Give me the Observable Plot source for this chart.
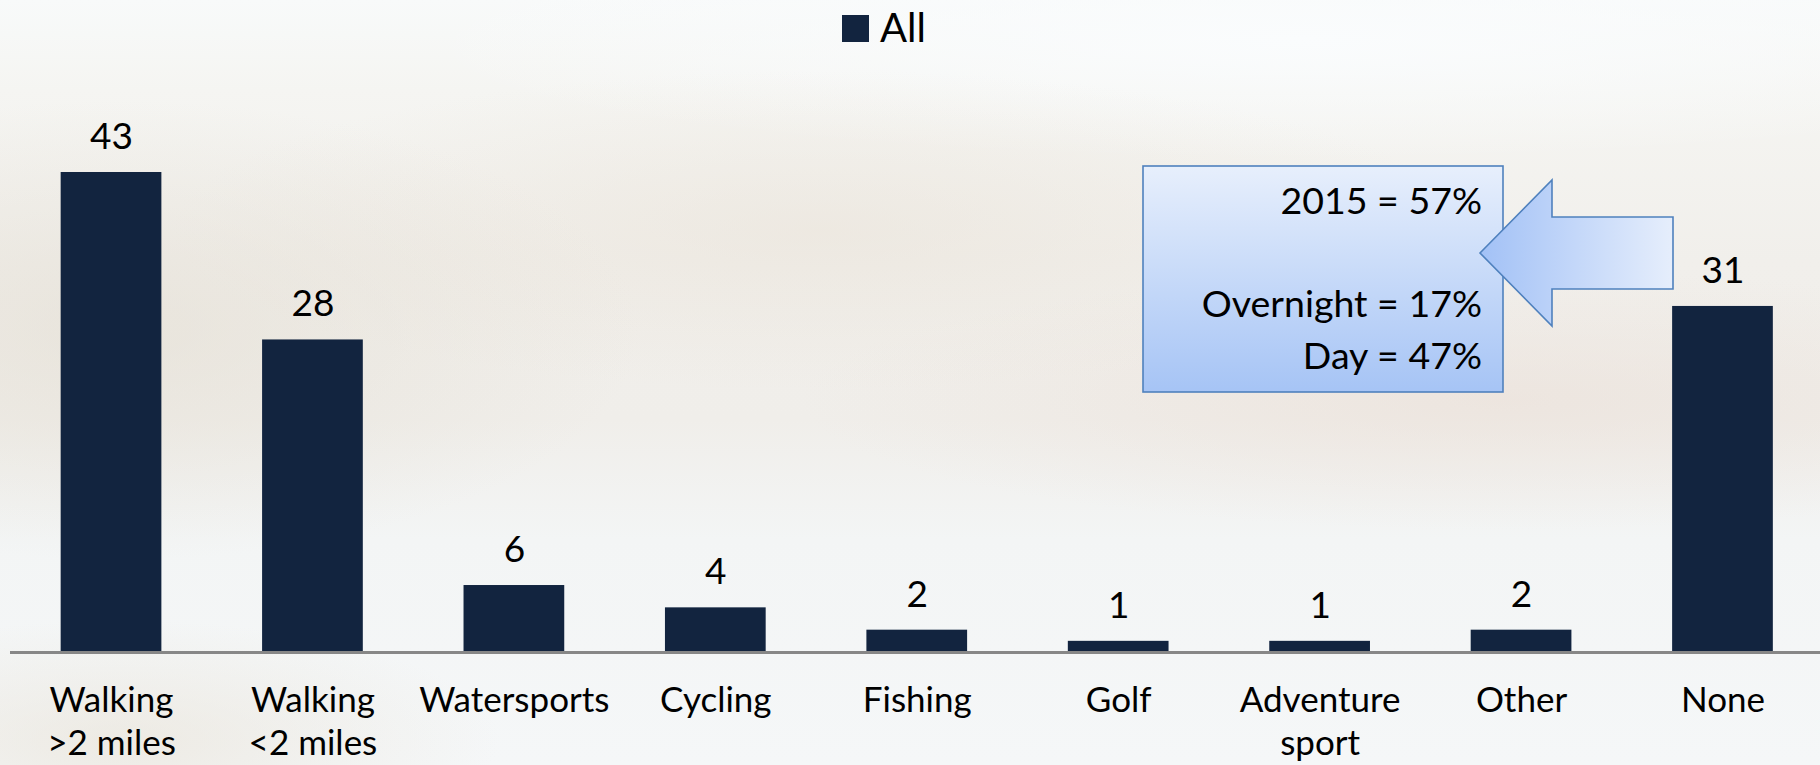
<!DOCTYPE html>
<html>
<head>
<meta charset="utf-8">
<script src="https://cdn.jsdelivr.net/npm/d3@7"></script>
<script src="https://cdn.jsdelivr.net/npm/@observablehq/plot@0.6"></script>
<style>
  html, body { margin: 0; padding: 0; }
  body {
    width: 1820px; height: 765px; overflow: hidden;
    font-family: Lato, "Open Sans", sans-serif;
    background:
      radial-gradient(ellipse 520px 230px at 120px 330px, rgba(226,220,208,0.55), rgba(226,220,208,0) 100%),
      radial-gradient(ellipse 650px 160px at 820px 230px, rgba(232,224,212,0.45), rgba(232,224,212,0) 100%),
      radial-gradient(ellipse 700px 130px at 1500px 400px, rgba(234,222,214,0.55), rgba(234,222,214,0) 100%),
      radial-gradient(ellipse 380px 120px at 120px 740px, rgba(232,226,214,0.6), rgba(232,226,214,0) 100%),
      radial-gradient(ellipse 900px 120px at 1300px 40px, rgba(250,252,253,1), rgba(250,252,253,0) 100%),
      linear-gradient(to bottom, #f8fafa 0px, #f5f5f2 90px, #f1efeb 260px, #f0eeea 420px, #f3f5f5 540px, #f5f7f8 765px);
  }
  #chart { position: relative; width: 1820px; height: 765px; }
</style>
</head>
<body>
<div id="chart"></div>
<script>
// ---- data ----
const categories = ["Walking\n>2 miles", "Walking\n<2 miles", "Watersports", "Cycling", "Fishing", "Golf", "Adventure\nsport", "Other", "None"];
const values = [43, 28, 6, 4, 2, 1, 1, 2, 31];
const seriesName = "All";
const calloutLines = ["2015 = 57%", "", "Overnight = 17%", "Day = 47%"];

const barColor = "#12243f";
const data = categories.map((c, i) => {
  const parts = c.split("\n");
  return { category: c, value: values[i], line1: parts[0], line2: parts[1] || "" };
});

// legend (drawn inside the SVG, above the plot area)
function legendMark() {
  const g = d3.create("svg:g");
  g.append("rect").attr("x", 842).attr("y", 15).attr("width", 27).attr("height", 27).attr("fill", barColor);
  g.append("text").attr("x", 880).attr("y", 42).attr("font-size", 40).attr("fill", "#000")
    .attr("text-anchor", "start")
    .attr("font-family", "Lato, sans-serif").text(seriesName);
  return g.node();
}

// callout box with arrow (annotation)
function calloutMark() {
  const g = d3.create("svg:g");
  const defs = g.append("defs");
  const bg = defs.append("linearGradient").attr("id", "boxGrad")
    .attr("x1", 0).attr("y1", 0).attr("x2", 0).attr("y2", 1);
  bg.append("stop").attr("offset", "0%").attr("stop-color", "#e7effc");
  bg.append("stop").attr("offset", "100%").attr("stop-color", "#a6c4f5");
  const ag = defs.append("linearGradient").attr("id", "arrowGrad")
    .attr("x1", 0).attr("y1", 0).attr("x2", 1).attr("y2", 0);
  ag.append("stop").attr("offset", "0%").attr("stop-color", "#a2c1f6");
  ag.append("stop").attr("offset", "100%").attr("stop-color", "#e6eefc");

  g.append("rect").attr("x", 1143).attr("y", 166).attr("width", 360).attr("height", 226)
    .attr("fill", "url(#boxGrad)").attr("stroke", "#4f81bd").attr("stroke-width", 1.6);

  const lineGap = 51.5;
  calloutLines.forEach((t, i) => {
    if (!t) return;
    g.append("text").attr("x", 1482).attr("y", 214 + i * lineGap)
      .attr("text-anchor", "end").attr("font-size", 37.5).attr("fill", "#000")
      .attr("font-family", "Lato, sans-serif").text(t);
  });

  const pts = [[1480, 253], [1552, 180], [1552, 217], [1673, 217], [1673, 289], [1552, 289], [1552, 326]];
  g.append("polygon").attr("points", pts.map(p => p.join(",")).join(" "))
    .attr("fill", "url(#arrowGrad)").attr("stroke", "#4f81bd").attr("stroke-width", 1.6)
    .attr("stroke-linejoin", "miter");
  return g.node();
}

const chart = Plot.plot({
  width: 1820,
  height: 765,
  marginTop: 172,
  marginBottom: 113,
  marginLeft: 10,
  marginRight: 0,
  style: { background: "transparent", fontFamily: "Lato, sans-serif", overflow: "visible" },
  x: { domain: categories, range: [10.3, 1823.2], paddingInner: 0.5, paddingOuter: 0.25, align: 0.5, round: false, axis: null },
  y: { domain: [0, 43], axis: null },
  marks: [
    legendMark,
    Plot.barY(data, { x: "category", y: "value", fill: barColor }),
    Plot.ruleY([0], { stroke: "#878787", strokeWidth: 3 }),
    Plot.text(data, { x: "category", y: "value", text: d => String(d.value), lineAnchor: "bottom", dy: -23.5, fontSize: 37, fill: "#000" }),
    Plot.text(data, { x: "category", y: 0, text: "line1", lineAnchor: "bottom", dy: 59, fontSize: 35, fill: "#000" }),
    Plot.text(data, { x: "category", y: 0, text: "line2", lineAnchor: "bottom", dy: 102, fontSize: 35, fill: "#000" }),
    calloutMark
  ]
});
document.getElementById("chart").appendChild(chart);
</script>
</body>
</html>
